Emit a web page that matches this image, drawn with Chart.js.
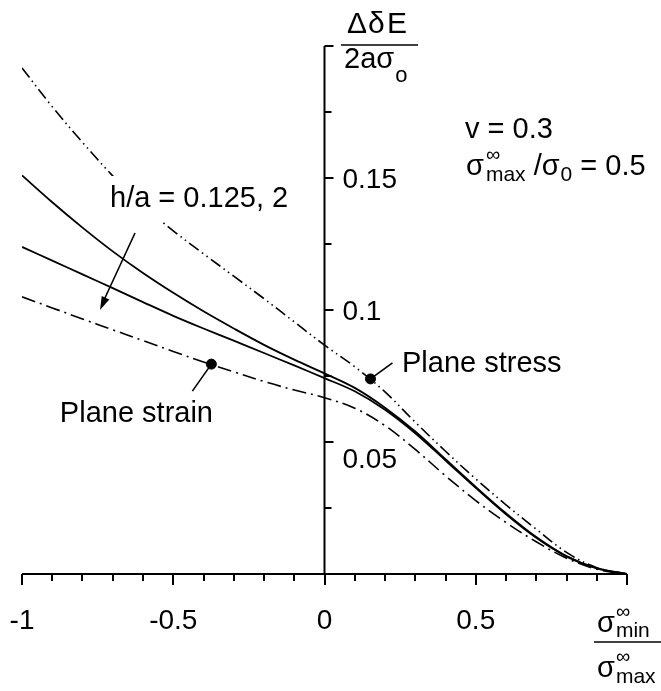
<!DOCTYPE html>
<html>
<head>
<meta charset="utf-8">
<script src="https://cdn.jsdelivr.net/npm/chart.js@4.4.0/dist/chart.umd.min.js"></script>
<style>
  html, body { margin: 0; padding: 0; background: #fff; }
</style>
</head>
<body>
<canvas id="energyCV" width="661" height="691"></canvas>
<script>
// sigma_min / sigma_max
const ratio = [-1, -0.9, -0.8, -0.7, -0.6, -0.5, -0.4, -0.3, -0.2, -0.1, 0,
               0.1, 0.2, 0.3, 0.4, 0.5, 0.6, 0.7, 0.8, 0.9, 1];

const planeStress = [0.1917, 0.1770, 0.1635, 0.1508, 0.1395, 0.1300, 0.1213, 0.1128, 0.1043, 0.0955, 0.0867,
                     0.0785, 0.0690, 0.0575, 0.0465, 0.0360, 0.0262, 0.0170, 0.0082, 0.0024, 0];
const ha0125 = [0.1510, 0.1408, 0.1312, 0.1222, 0.1140, 0.1065, 0.0995, 0.0930, 0.0868, 0.0812, 0.0760,
                0.0705, 0.0630, 0.0540, 0.0435, 0.0330, 0.0230, 0.0140, 0.0068, 0.0022, 0];
const ha2 = [0.1239, 0.1187, 0.1135, 0.1083, 0.1030, 0.0978, 0.0930, 0.0884, 0.0837, 0.0790, 0.0742,
             0.0692, 0.0622, 0.0533, 0.0430, 0.0326, 0.0226, 0.0137, 0.0066, 0.0021, 0];
const planeStrain = [0.1050, 0.1008, 0.0966, 0.0925, 0.0884, 0.0843, 0.0803, 0.0766, 0.0729, 0.0697, 0.0668,
                     0.0628, 0.0562, 0.0472, 0.0372, 0.0278, 0.0195, 0.0122, 0.0060, 0.0018, 0];

// labelled points on the two bounding curves
const stressMark = { x: 0.152, y: 0.0739 };
const strainMark = { x: -0.374, y: 0.0795 };

const xTickLabels = ['-1', '-0.5', '0', '0.5'];
const xTickValues = [-1, -0.5, 0, 0.5];
const yTickLabels = ['0.05', '0.1', '0.15'];
const yTickValues = [0.05, 0.1, 0.15];

const FONT = '"Liberation Sans", Arial, sans-serif';

function pts(ys) {
  return ratio.map((x, i) => ({ x: x, y: ys[i] }));
}

// text run with sub/superscript pieces: [text, size, dx, dy, noAdvance]
function runText(c, parts, x, y) {
  let cx = x;
  parts.forEach(p => {
    c.font = p[1] + 'px ' + FONT;
    c.fillText(p[0], cx + (p[2] || 0), y + (p[3] || 0));
    if (!p[4]) cx += c.measureText(p[0]).width + (p[2] || 0);
  });
}

const axesPlugin = {
  id: 'axesPlugin',
  afterDraw(chart) {
    const c = chart.ctx;
    const xs = chart.scales.x, ys = chart.scales.y;
    const x0 = xs.getPixelForValue(0), y0 = ys.getPixelForValue(0);
    c.save();
    c.strokeStyle = '#000';
    c.fillStyle = '#000';
    c.lineWidth = 2;
    c.lineCap = 'butt';

    // axes
    c.beginPath();
    c.moveTo(xs.getPixelForValue(-1), y0);
    c.lineTo(xs.getPixelForValue(1), y0);
    c.moveTo(x0, y0);
    c.lineTo(x0, ys.getPixelForValue(0.2));
    c.stroke();

    // x ticks, every 0.1
    c.beginPath();
    for (let i = -10; i <= 10; i++) {
      const px = Math.round(xs.getPixelForValue(i / 10));
      c.moveTo(px, y0);
      c.lineTo(px, y0 + (i % 5 === 0 ? 11 : 7));
    }
    // y ticks, every 0.025
    for (let i = 1; i <= 8; i++) {
      const py = Math.round(ys.getPixelForValue(i * 0.025));
      c.moveTo(x0, py);
      c.lineTo(x0 + (i % 2 === 0 ? 9 : 7), py);
    }
    c.stroke();

    c.font = '28px ' + FONT;
    c.textBaseline = 'alphabetic';
    c.textAlign = 'center';
    xTickValues.forEach((v, i) => {
      c.fillText(xTickLabels[i], xs.getPixelForValue(v), 629);
    });
    c.textAlign = 'left';
    yTickValues.forEach((v, i) => {
      const dy = v === 0.05 ? 26 : 10;
      c.fillText(yTickLabels[i], x0 + 18, ys.getPixelForValue(v) + dy);
    });

    // y title
    c.lineWidth = 1.5;
    c.beginPath();
    c.moveTo(341, 45);
    c.lineTo(418, 45);
    c.stroke();
    c.font = '30px ' + FONT;
    c.fillText('\u0394', 347, 33);
    c.fillText('\u03b4', 368, 33);
    c.fillText('E', 387, 33);
    runText(c, [['2a\u03c3', 29], ['o', 22, 1, 14]], 344, 68);

    // x title
    c.beginPath();
    c.moveTo(594, 642);
    c.lineTo(661, 642);
    c.stroke();
    runText(c, [['\u03c3', 29], ['\u221e', 20, 1, -14, true], ['min', 21, 1, 5]], 597, 632);
    runText(c, [['\u03c3', 29], ['\u221e', 20, 1, -14, true], ['max', 21, 1, 6]], 597, 677);

    // parameters
    c.font = '29px ' + FONT;
    c.fillText('v = 0.3', 465, 138);
    runText(c, [['\u03c3', 29], ['\u221e', 20, 2, -14, true], ['max', 21, 2, 6], [' /\u03c3', 29], ['0', 21, 1, 6], [' = 0.5', 29]], 466, 175);

    // h/a label on an opaque box, with arrow
    c.fillStyle = '#fff';
    c.fillRect(108, 176, 186, 46);
    c.fillStyle = '#000';
    c.font = '29px ' + FONT;
    c.fillText('h/a = 0.125, 2', 110, 207);
    c.lineWidth = 1.6;
    c.beginPath();
    c.moveTo(135, 233);
    c.lineTo(104, 300);
    c.stroke();
    const ang = Math.atan2(310 - 233, 100 - 135);
    c.beginPath();
    c.moveTo(100, 310);
    c.lineTo(100 - 14 * Math.cos(ang - 0.3), 310 - 14 * Math.sin(ang - 0.3));
    c.lineTo(100 - 14 * Math.cos(ang + 0.3), 310 - 14 * Math.sin(ang + 0.3));
    c.closePath();
    c.fill();

    // curve labels with leaders
    const sx = xs.getPixelForValue(stressMark.x), sy = ys.getPixelForValue(stressMark.y);
    const ex = xs.getPixelForValue(strainMark.x), ey = ys.getPixelForValue(strainMark.y);
    c.beginPath();
    c.moveTo(sx, sy);
    c.lineTo(sx + 22, sy - 16);
    c.moveTo(ex, ey);
    c.lineTo(ex - 19, ey + 27);
    c.stroke();
    c.font = '29px ' + FONT;
    c.fillText('Plane stress', 402, 372);
    c.textAlign = 'right';
    c.fillText('Plane strain', 213, 422);
    c.restore();
  }
};

const curveStyle = { borderColor: '#000', pointRadius: 0, tension: 0.35 };

new Chart(document.getElementById('energyCV'), {
  type: 'line',
  data: {
    datasets: [{
      ...curveStyle,
      label: 'Plane stress',
      data: pts(planeStress),
      borderWidth: 1.6,
      borderDash: [12, 4, 1.5, 4, 1.5, 4]
    }, {
      ...curveStyle,
      label: 'h/a = 0.125',
      data: pts(ha0125),
      borderWidth: 1.8
    }, {
      ...curveStyle,
      label: 'h/a = 2',
      data: pts(ha2),
      borderWidth: 1.8
    }, {
      ...curveStyle,
      label: 'Plane strain',
      data: pts(planeStrain),
      borderWidth: 1.6,
      borderDash: [14, 5, 2, 5]
    }, {
      type: 'scatter',
      label: 'marks',
      data: [stressMark, strainMark],
      backgroundColor: '#000',
      borderColor: '#000',
      pointRadius: 5
    }]
  },
  options: {
    responsive: false,
    animation: false,
    layout: {
      padding: { left: 22, right: 34, top: 46, bottom: 117 }
    },
    scales: {
      x: { type: 'linear', min: -1, max: 1, display: false },
      y: { type: 'linear', min: 0, max: 0.2, display: false }
    },
    plugins: {
      legend: { display: false },
      tooltip: { enabled: false }
    }
  },
  plugins: [axesPlugin]
});
</script>
</body>
</html>
